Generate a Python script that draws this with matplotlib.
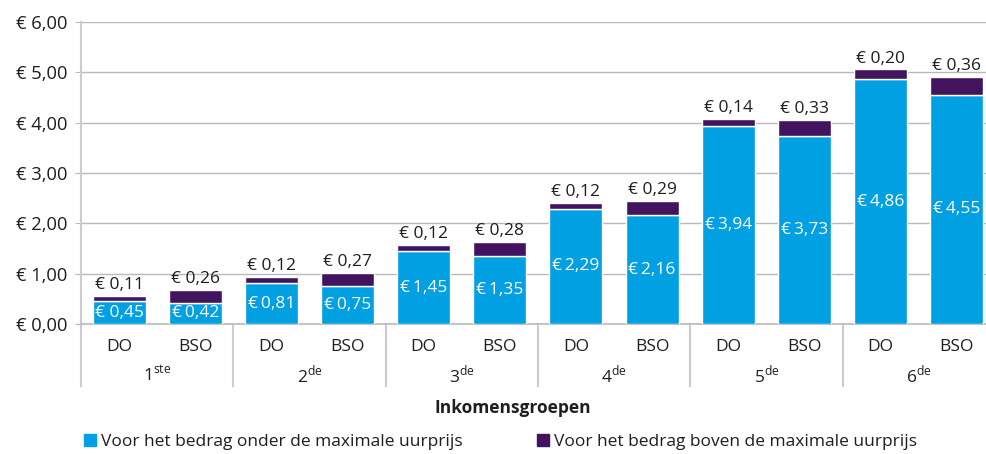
import matplotlib.pyplot as plt
from matplotlib.patches import Patch

plt.rcParams['font.family'] = ['Open Sans', 'DejaVu Sans']
plt.rcParams['mathtext.fontset'] = 'custom'
plt.rcParams['mathtext.rm'] = 'Open Sans'

# data
groepen = ['1', '2', '3', '4', '5', '6']
achtervoegsel = ['ste', 'de', 'de', 'de', 'de', 'de']
soorten = ['DO', 'BSO']
onder_do = [0.45, 0.81, 1.45, 2.29, 3.94, 4.86]
boven_do = [0.11, 0.12, 0.12, 0.12, 0.14, 0.20]
onder_bso = [0.42, 0.75, 1.35, 2.16, 3.73, 4.55]
boven_bso = [0.26, 0.27, 0.28, 0.29, 0.33, 0.36]
y_ticks = [0, 1, 2, 3, 4, 5, 6]

blauw = '#00a0e2'
paars = '#42145f'
tekst = '#1e1e1e'
grijs = '#b9b9b9'

def euro(v, sep=' '):
    return '€' + sep + f'{v:.2f}'.replace('.', ',')

fig = plt.figure(figsize=(9.87, 4.54), dpi=100)
ax = fig.add_axes([81/987, 130/454, 1 - 81/987, 302/454])

breedte = 0.348
for i in range(len(groepen)):
    for j, (onder, boven) in enumerate([(onder_do, boven_do), (onder_bso, boven_bso)]):
        x = i + 0.25 + 0.5*j
        ax.bar(x, onder[i], breedte, color=blauw, edgecolor='white', linewidth=1, zorder=3)
        ax.bar(x, boven[i], breedte, bottom=onder[i], color=paars, edgecolor='white', linewidth=1, zorder=3)
        sep = ' ' if i == 0 and j == 0 else '\u2009'
        ax.text(x, onder[i]/2, euro(onder[i], sep), ha='center', va='center',
                color='white', fontsize=12.5, zorder=4)
        ax.annotate(euro(boven[i]), (x, onder[i] + boven[i]), xytext=(0, 2),
                    textcoords='offset points', ha='center', va='bottom',
                    color=tekst, fontsize=12.5)

ax.set_xlim(0, (987 - 81)/152.3)
ax.set_ylim(0, 6)
ax.set_yticks(y_ticks)
ax.set_yticklabels([euro(v) for v in y_ticks], fontsize=13.2, color=tekst)
ax.yaxis.grid(True, color=grijs, linewidth=1)
ax.set_axisbelow(True)
ax.tick_params(axis='y', length=4, color=grijs, pad=6)
for s in ['top', 'right']:
    ax.spines[s].set_visible(False)
ax.spines['left'].set_color('#cccccc')
ax.spines['left'].set_linewidth(1.5)
ax.spines['bottom'].set_color(grijs)
ax.spines['bottom'].set_linewidth(1.2)

# category axis: DO/BSO + income groups
ax.set_xticks([])
for i in range(len(groepen)):
    for j, s in enumerate(soorten):
        ax.text(i + 0.25 + 0.5*j, -0.46, s, ha='center', va='center',
                fontsize=12.5, color=tekst, clip_on=False)
    ax.text(i + 0.5, -1.02, groepen[i] + r'$^{\mathrm{' + achtervoegsel[i] + '}}$',
            ha='center', va='center', fontsize=12.5, color=tekst)
    ax.plot([i, i], [0, -1.23], color='#cccccc', linewidth=1.5, clip_on=False)

fig.text(513/987, 1 - 408/454, 'Inkomensgroepen', ha='center', va='center',
         fontsize=12.5, fontweight='bold', color=tekst)

for kleur, label, xpos in [(blauw, 'Voor het bedrag onder de maximale uurprijs', 84/987),
                           (paars, 'Voor het bedrag boven de maximale uurprijs', 537/987)]:
    fig.legend(handles=[Patch(color=kleur, label=label)], loc='center left',
               bbox_to_anchor=(xpos, 1 - 442/454), frameon=False, fontsize=12.5,
               handlelength=0.7, handleheight=0.7, handletextpad=0.3,
               borderpad=0, borderaxespad=0, labelcolor=tekst)

fig.savefig('out.png', dpi=100)
